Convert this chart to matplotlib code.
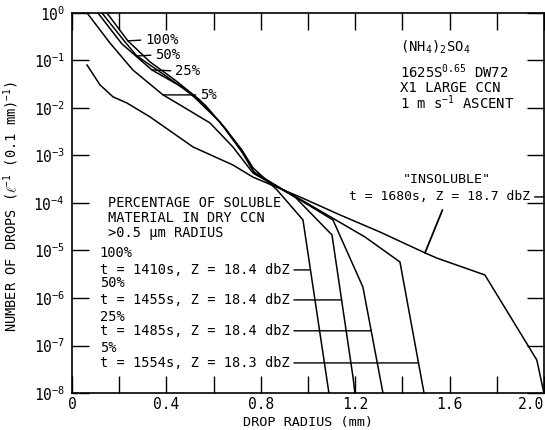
import matplotlib
matplotlib.use("Agg")
import matplotlib.pyplot as plt
import numpy as np
from matplotlib.ticker import FixedLocator, FixedFormatter, NullLocator

plt.rcParams['font.family'] = ['DejaVu Sans Mono']
plt.rcParams['mathtext.fontset'] = 'custom'
plt.rcParams['mathtext.rm'] = 'DejaVu Sans Mono'
plt.rcParams['mathtext.it'] = 'DejaVu Sans Mono'
plt.rcParams['mathtext.bf'] = 'DejaVu Sans Mono'

# drop radius (mm) and number of drops for each run
x_100 = [0.148, 0.237, 0.331, 0.436, 0.542, 0.648, 0.720, 0.767, 0.869, 0.979, 1.089]
y_100 = [1.0, 0.258, 0.093, 0.0388, 0.0147, 3.79e-3, 1.31e-3, 5.5e-4, 1.88e-4, 4.4e-5, 1e-8]

x_50 = [0.127, 0.225, 0.275, 0.373, 0.500, 0.627, 0.720, 0.771, 0.945, 1.102, 1.191, 1.199]
y_50 = [1.0, 0.245, 0.124, 0.0573, 0.0207, 5.07e-3, 1.19e-3, 4.5e-4, 1.34e-4, 2.12e-5, 2.17e-8, 1e-8]

x_25 = [0.110, 0.212, 0.339, 0.458, 0.564, 0.648, 0.725, 0.775, 0.966, 1.106, 1.233, 1.318]
y_25 = [1.0, 0.222, 0.063, 0.029, 0.01156, 3.79e-3, 1.13e-3, 4.08e-4, 1.16e-4, 4.4e-5, 1.7e-6, 1e-8]

x_5 = [0.064, 0.161, 0.258, 0.386, 0.458, 0.585, 0.682, 0.767, 0.966, 1.242, 1.390, 1.492]
y_5 = [1.0, 0.233, 0.063, 0.0188, 0.01156, 4.83e-3, 1.51e-3, 4.28e-4, 1.21e-4, 1.92e-5, 5.73e-6, 1e-8]

x_ins = [0.064, 0.119, 0.174, 0.233, 0.331, 0.513, 0.682, 0.767, 0.966, 1.136, 1.305,
         1.496, 1.547, 1.750, 1.970, 2.0]
y_ins = [0.080, 0.0305, 0.0171, 0.0127, 6.47e-3, 1.51e-3, 6.3e-4, 3.5e-4, 1.34e-4, 5.6e-5,
         2.45e-5, 8.9e-6, 6.9e-6, 3.05e-6, 4.95e-8, 1e-8]

pct_labels = ['100%', '50%', '25%', '5%']
run_labels = ['t = 1410s, Z = 18.4 dbZ', 't = 1455s, Z = 18.4 dbZ',
              't = 1485s, Z = 18.4 dbZ', 't = 1554s, Z = 18.3 dbZ']
ins_label = 't = 1680s, Z = 18.7 dbZ'

xticks = [0, 0.2, 0.4, 0.6, 0.8, 1.0, 1.2, 1.4, 1.6, 1.8, 2.0]
xticklabels = ['0', '', '0.4', '', '0.8', '', '1.2', '', '1.6', '', '2.0']
yticks = [10.0 ** k for k in range(-8, 1)]


def on_curve(xs, ys, x):
    return 10 ** np.interp(x, xs, np.log10(ys))


def x_on_curve(xs, ys, y):
    return np.interp(np.log10(y), np.log10(ys)[::-1], np.array(xs)[::-1])


fig = plt.figure(figsize=(5.45, 4.3), dpi=100)
ax = fig.add_axes([0.132, 0.086, 0.866, 0.884])

curves = [(x_100, y_100), (x_50, y_50), (x_25, y_25), (x_5, y_5)]
for xs, ys in curves + [(x_ins, y_ins)]:
    ax.plot(xs, ys, color='black', lw=1.1)

ax.set_yscale('log')
ax.set_xlim(0, 2.0)
ax.set_ylim(1e-8, 1)
ax.xaxis.set_major_locator(FixedLocator(xticks))
ax.xaxis.set_major_formatter(FixedFormatter(xticklabels))
ax.yaxis.set_major_locator(FixedLocator(yticks))
ax.yaxis.set_minor_locator(NullLocator())
ax.tick_params(direction='in', length=12, width=1, top=True, right=True, labelsize=10.5)
ax.tick_params(axis='x', pad=3)
ax.tick_params(axis='y', pad=5)
for s in ax.spines.values():
    s.set_linewidth(1.2)
ax.get_xticklabels()[-1].set_horizontalalignment('right')

ax.set_xlabel('DROP RADIUS (mm)', fontsize=9.7, labelpad=3)
ax.set_ylabel(r'NUMBER OF DROPS ($\ell^{-1}$ (0.1 mm)$^{-1}$)', fontsize=9.8)
ax.yaxis.set_label_coords(-0.108, 0.49)

line_kw = dict(arrowstyle='-', color='black', lw=1.0, shrinkA=1, shrinkB=0)

# percent labels at the top
pct_at = [0.237, 0.275, 0.339, 0.386]
pct_text = [(0.309, 0.27), (0.352, 0.13), (0.436, 0.060), (0.542, 0.0188)]
for (xs, ys), lab, xa, (xt, yt) in zip(curves, pct_labels, pct_at, pct_text):
    ax.annotate(lab, xy=(xa, on_curve(xs, ys, xa)), xytext=(xt, yt), ha='left', va='center',
                fontsize=10, arrowprops=dict(relpos=(0, 0.5), **line_kw))

# legend block at the lower left
ax.text(0.076, 0.50, 'PERCENTAGE OF SOLUBLE', transform=ax.transAxes, fontsize=9.8, va='center')
ax.text(0.076, 0.461, 'MATERIAL IN DRY CCN', transform=ax.transAxes, fontsize=9.8, va='center')
ax.text(0.076, 0.421, '>0.5 µm RADIUS', transform=ax.transAxes, fontsize=9.8, va='center')

run_y = [3.9e-6, 9.1e-7, 2.04e-7, 4.3e-8]
pct_y = [0.368, 0.289, 0.2, 0.118]
for (xs, ys), lab, run, yr, yp in zip(curves, pct_labels, run_labels, run_y, pct_y):
    ax.text(0.059, yp, lab, transform=ax.transAxes, fontsize=9.8, va='center')
    ax.annotate(run, xy=(x_on_curve(xs, ys, yr), yr), xytext=(0.119, yr), ha='left',
                va='center', fontsize=9.8, arrowprops=dict(relpos=(1, 0.5), **line_kw))

# insoluble run
ax.text(1.589, 3.05e-4, '"INSOLUBLE"', ha='center', va='center', fontsize=9.6)
ax.annotate(ins_label, xy=(2.0, 1.34e-4), xytext=(1.175, 1.34e-4), ha='left', va='center',
            fontsize=9.4, arrowprops=dict(relpos=(1, 0.5), **line_kw))
ax.annotate('', xy=(1.496, on_curve(x_ins, y_ins, 1.496)), xytext=(1.57, 7.1e-5),
            arrowprops=dict(arrowstyle='-', color='black', lw=1.3, shrinkA=0, shrinkB=0))

# run description, upper right
desc = [r'(NH$_4$)$_2$SO$_4$', r'1625S$^{0.65}$ DW72', 'X1 LARGE CCN', r'1 m s$^{-1}$ ASCENT']
desc_y = [0.91, 0.845, 0.803, 0.763]
for d, yd in zip(desc, desc_y):
    ax.text(0.695, yd, d, transform=ax.transAxes, fontsize=10, va='center')

fig.savefig('out.png', dpi=100)
